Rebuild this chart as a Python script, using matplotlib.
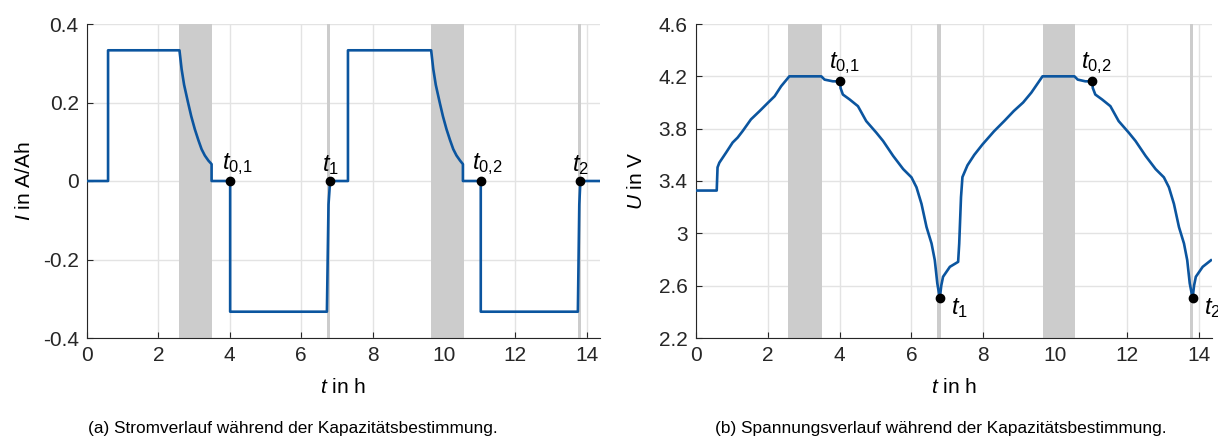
import matplotlib
matplotlib.use("Agg")
import matplotlib.pyplot as plt
from matplotlib.ticker import FuncFormatter

plt.rcParams['font.family'] = ['Liberation Sans', 'DejaVu Sans']
plt.rcParams['mathtext.fontset'] = 'custom'
plt.rcParams['mathtext.rm'] = 'Liberation Sans'
plt.rcParams['mathtext.it'] = 'Liberation Sans:italic'
plt.rcParams['axes.unicode_minus'] = False

# data
spans = [(2.57, 3.50), (6.72, 6.81), (9.65, 10.55), (13.75, 13.85)]

t_I = [0, 0.59, 0.59, 2.59, 2.65, 2.72, 2.83, 2.92, 3.02, 3.12, 3.21, 3.30, 3.40, 3.49,
       3.49, 4.01, 4.01, 6.72, 6.765, 6.81, 7.31, 7.31,
       9.64, 9.70, 9.77, 9.88, 9.97, 10.07, 10.17, 10.26, 10.35, 10.45, 10.53,
       10.53, 11.03, 11.03, 13.75, 13.79, 13.82, 14.37]
I = [0, 0, 0.333, 0.333, 0.285, 0.245, 0.20, 0.165, 0.132, 0.104, 0.081, 0.065, 0.052, 0.043,
     0, 0, -0.333, -0.333, -0.06, 0, 0, 0.333,
     0.333, 0.285, 0.245, 0.20, 0.165, 0.132, 0.104, 0.081, 0.065, 0.052, 0.043,
     0, 0, -0.333, -0.333, -0.06, 0, 0]

t_U = [0, 0.577, 0.60, 0.65, 0.84, 1.02, 1.16, 1.30, 1.53, 1.77, 2.00, 2.19, 2.37, 2.56, 2.60,
       3.49, 3.58, 3.81, 4.02, 4.025, 4.09, 4.28, 4.51, 4.74, 5.02, 5.21, 5.49, 5.77, 6.00,
       6.14, 6.28, 6.42, 6.56, 6.65, 6.72, 6.79, 6.83, 6.88, 7.07, 7.30, 7.33, 7.38, 7.42,
       7.56, 7.75, 7.98, 8.30, 8.59, 8.85, 9.11, 9.34, 9.50, 9.65,
       10.54, 10.63, 10.84, 11.04, 11.05, 11.12, 11.31, 11.54, 11.77, 12.05, 12.24, 12.52,
       12.80, 13.03, 13.17, 13.31, 13.45, 13.59, 13.68, 13.75, 13.83, 13.87, 13.92, 14.11, 14.34]
U = [3.327, 3.327, 3.504, 3.54, 3.618, 3.694, 3.732, 3.782, 3.871, 3.934, 3.997, 4.048, 4.124,
     4.187, 4.20, 4.20, 4.175, 4.162, 4.162, 4.111, 4.061, 4.023, 3.972, 3.858, 3.77, 3.706,
     3.592, 3.491, 3.428, 3.352, 3.225, 3.048, 2.922, 2.795, 2.618, 2.504, 2.60, 2.668, 2.744,
     2.782, 2.92, 3.276, 3.43, 3.52, 3.60, 3.68, 3.78, 3.86, 3.935, 4.00, 4.076, 4.14, 4.20,
     4.20, 4.175, 4.162, 4.162, 4.111, 4.061, 4.023, 3.972, 3.858, 3.77, 3.706, 3.592,
     3.491, 3.428, 3.352, 3.225, 3.048, 2.922, 2.795, 2.618, 2.504, 2.60, 2.668, 2.744, 2.794]

mark_tI = [4.01, 6.81, 11.03, 13.82]
mark_I = [0, 0, 0, 0]
mark_tU = [4.02, 6.79, 11.04, 13.83]
mark_U = [4.162, 2.504, 4.162, 2.504]
labels = [r'$t_{\mathrm{0{,}1}}$', r'$t_{\mathrm{1}}$', r'$t_{\mathrm{0{,}2}}$', r'$t_{\mathrm{2}}$']

blue = '#0b559f'
W, H = 1218, 441
fig = plt.figure(figsize=(W / 100, H / 100), dpi=100)
axI = fig.add_axes([87 / W, 1 - 338 / H, (600 - 87) / W, (338 - 24) / H])
axU = fig.add_axes([696 / W, 1 - 338 / H, (1212 - 696) / W, (338 - 24) / H])

for ax in (axI, axU):
    ax.set_xlim(0, 14.37)
    ax.set_xticks([0, 2, 4, 6, 8, 10, 12, 14])
    ax.grid(True, color='#e3e3e3', lw=1)
    ax.set_axisbelow(True)
    for t0, t1 in spans:
        ax.axvspan(t0, t1, color='#cccccc', lw=0, zorder=1.5)
    ax.spines['top'].set_visible(False)
    ax.spines['right'].set_visible(False)
    for s in ('left', 'bottom'):
        ax.spines[s].set_color('#262626')
        ax.spines[s].set_linewidth(0.8)
    ax.tick_params(direction='in', length=4, labelsize=15, colors='#262626', pad=6)
    ax.set_xlabel(r'$t$ in h', fontsize=15, labelpad=9)

# current
axI.plot(t_I, I, color=blue, lw=1.9, zorder=3)
axI.plot(mark_tI, mark_I, 'o', color='black', ms=6, zorder=4)
axI.set_ylim(-0.4, 0.4)
axI.set_yticks([-0.4, -0.2, 0, 0.2, 0.4])
axI.yaxis.set_major_formatter(FuncFormatter(lambda v, p: '%g' % round(v, 2)))
axI.set_ylabel(r'$I$ in A/Ah', fontsize=15, labelpad=6)
for x, y, s in zip(mark_tI, mark_I, labels):
    axI.annotate(s, (x, y), xytext=(-6, 3), textcoords='offset points',
                 ha='left', va='bottom', fontsize=17)

# voltage
axU.plot(t_U, U, color=blue, lw=1.9, zorder=3)
axU.plot(mark_tU, mark_U, 'o', color='black', ms=6, zorder=4)
axU.set_ylim(2.2, 4.6)
axU.set_yticks([2.2, 2.6, 3.0, 3.4, 3.8, 4.2, 4.6])
axU.yaxis.set_major_formatter(FuncFormatter(lambda v, p: '%g' % round(v, 2)))
axU.set_ylabel(r'$U$ in V', fontsize=15, labelpad=9)
offs = [(-8, 4, 'bottom'), (8, -7, 'center'), (-8, 4, 'bottom'), (8, -7, 'center')]
for (x, y, s), (dx, dy, va) in zip(zip(mark_tU, mark_U, labels), offs):
    axU.annotate(s, (x, y), xytext=(dx, dy), textcoords='offset points',
                 ha='left', va=va, fontsize=17, annotation_clip=False)

fig.text(293 / W, 1 - 428 / H, '(a) Stromverlauf während der Kapazitätsbestimmung.',
         ha='center', va='center', fontsize=12.4)
fig.text(941 / W, 1 - 428 / H, '(b) Spannungsverlauf während der Kapazitätsbestimmung.',
         ha='center', va='center', fontsize=12.4)

fig.savefig('out.png', dpi=100)
